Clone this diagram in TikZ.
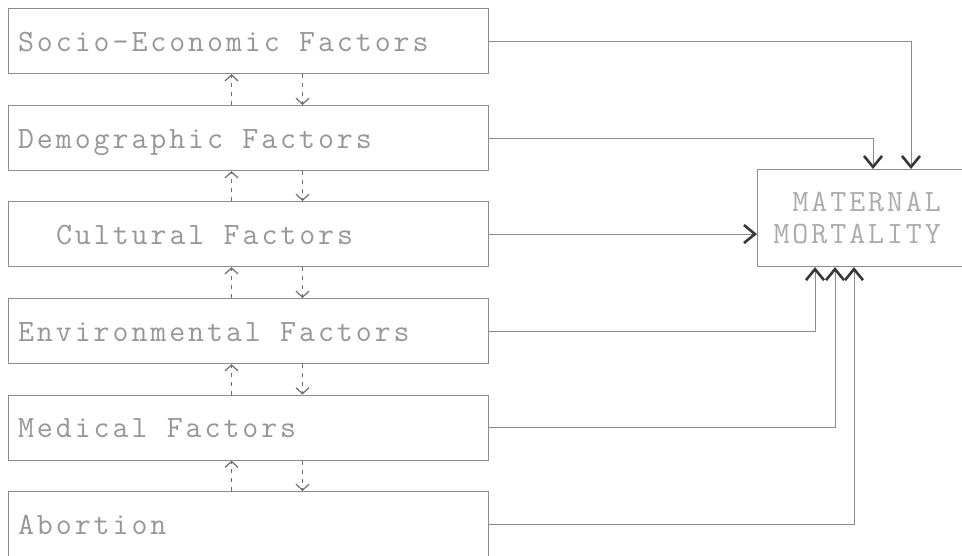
\documentclass[tikz,border=0pt]{standalone}
\usepackage{fontspec}
\newfontfamily\tw[LetterSpace=9.5]{Latin Modern Mono}
\usetikzlibrary{arrows.meta}
\definecolor{boxgray}{HTML}{8C8C8C}
\definecolor{txtgray}{HTML}{979797}
\definecolor{mmtxt}{HTML}{ABABAB}
\definecolor{tipdark}{HTML}{383838}
\definecolor{dashgray}{HTML}{6E6E6E}
\newcommand\twfont{\tw\fontsize{31}{32}\selectfont}
% full-cell word gap for the letterspaced typewriter face
\newcommand\wgap{\hspace{9pt} }
\begin{document}
\begin{tikzpicture}[x=1pt,y=-1pt,
  factor/.style={draw=boxgray, line width=1.1pt, rectangle, anchor=north west,
    minimum width=480.5pt, minimum height=65pt, inner xsep=10pt, inner ysep=0pt,
    text width=460.5pt, align=left, text height=20pt, text depth=0pt,
    font=\twfont, text=txtgray},
  outcome/.style={draw=boxgray, line width=1.1pt, rectangle, anchor=north west,
    minimum width=215pt, minimum height=97pt, inner sep=0pt},
  outtext/.style={anchor=east, inner sep=0pt, align=right,
    font=\twfont, text=mmtxt},
  link/.style={draw=boxgray, line width=1pt,
    -{Straight Barb[length=11pt, width=18pt, line width=2.6pt, color=tipdark]}},
  feedback/.style={draw=dashgray, line width=1pt, dash pattern=on 4pt off 5pt,
    -{Straight Barb[length=6pt, width=13pt, line width=1.2pt, color=dashgray]}}]

\clip (0,0) rectangle (962,556);
\fill[white] (0,0) rectangle (962,556);

% factor boxes on the left
\node[factor] (socio) at (7.5,8)   {Socio-Economic\wgap Factors};
\node[factor] (demo)  at (7.5,105) {Demographic\wgap Factors};
\node[factor] (cult)  at (7.5,201) {\hspace*{38pt}Cultural\wgap Factors};
\node[factor] (env)   at (7.5,298) {Environmental\wgap Factors};
\node[factor] (med)   at (7.5,394.5) {Medical\wgap Factors};
\node[factor] (abort) at (7.5,491) {Abortion};

% outcome box (runs off the right edge)
\node[outcome] (mm) at (757,169) {};
\node[outtext] (mmlabel) at ([xshift=76pt]mm.center) {MATERNAL\\MORTALITY};

% links into the outcome box
\draw[link] (socio.east) -| ([xshift=154pt]mm.north west);
\draw[link] (demo.east)  -| ([xshift=116pt]mm.north west);
\draw[link] (cult.east)  -- (cult.east -| mm.west);
\draw[link] (env.east)   -| ([xshift=58pt]mm.south west);
\draw[link] (med.east)   -| ([xshift=78pt]mm.south west);
\draw[link] (abort.east) -| ([xshift=97pt]mm.south west);

% two-way dashed links between neighbouring factors
\foreach \upper/\lower in {socio/demo, demo/cult, cult/env, env/med, med/abort} {
  \draw[feedback] ([xshift=224pt]\lower.north west) -- ([xshift=224pt]\upper.south west);
  \draw[feedback] ([xshift=295pt]\upper.south west) -- ([xshift=295pt]\lower.north west);
}
\end{tikzpicture}
\end{document}
